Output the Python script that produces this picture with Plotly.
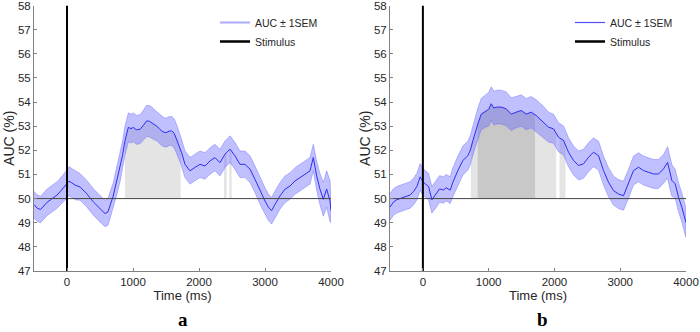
import numpy as np
import plotly.graph_objects as go
from plotly.subplots import make_subplots

CHANCE = 50
STIM_TIME = 0
Y_TICKS = list(range(47, 59))
X_TICKS = [0, 1000, 2000, 3000, 4000]

# ---- Panel a ----
time_a = [-500, -450, -400, -350, -300, -250, -200, -150, -100, -50, 0, 30, 70, 130, 200, 300, 400, 500, 576, 620,
          652, 700, 727, 770, 803, 840, 879, 929, 970, 1005, 1050, 1106, 1160, 1207, 1250, 1283, 1330, 1359,
          1400, 1434, 1470, 1510, 1550, 1586, 1625, 1662, 1712, 1737, 1788, 1864, 1939, 2015, 2091, 2167,
          2242, 2318, 2394, 2470, 2545, 2621, 2697, 2773, 2848, 2924, 3000, 3050, 3100, 3152, 3227, 3303,
          3379, 3455, 3530, 3606, 3682, 3732, 3783, 3833, 3884, 3934, 3960, 3985, 4000]
auc_a = [49.75, 49.6, 49.55, 49.7, 49.85, 49.95, 50.05, 50.15, 50.3, 50.45, 50.6, 50.72, 50.66, 50.55, 50.48,
         50.2, 49.86, 49.58, 49.38, 49.45, 49.72, 50.1, 50.43, 50.9, 51.3, 51.77, 52.4, 52.95, 52.9, 52.95,
         52.85, 52.87, 53.05, 53.22, 53.2, 53.15, 53.05, 53.0, 52.9, 52.8, 52.75, 52.74, 52.8, 52.8, 52.7,
         52.46, 52.11, 51.9, 51.42, 51.15, 51.29, 51.42, 51.35, 51.56, 51.7, 51.49, 51.84, 52.05, 51.77,
         51.42, 51.42, 51.22, 50.8, 50.32, 49.9, 49.65, 49.5, 49.76, 50.11, 50.39, 50.52, 50.73, 50.87,
         51.0, 51.15, 51.7, 50.94, 50.39, 49.97, 50.4, 50.1, 49.9, 49.5]
sem_a = [0.55, 0.55, 0.55, 0.55, 0.55, 0.55, 0.55, 0.55, 0.55, 0.55, 0.58, 0.6, 0.6, 0.6, 0.55,
         0.55, 0.55, 0.55, 0.55, 0.55, 0.55, 0.55, 0.55, 0.58, 0.6, 0.6, 0.6, 0.6, 0.6, 0.6,
         0.6, 0.6, 0.62, 0.65, 0.65, 0.65, 0.62, 0.6, 0.6, 0.6, 0.6, 0.6, 0.6, 0.6, 0.6,
         0.6, 0.58, 0.55, 0.55, 0.55, 0.55, 0.55, 0.55, 0.55, 0.55, 0.55, 0.55, 0.55, 0.55,
         0.55, 0.55, 0.55, 0.55, 0.55, 0.55, 0.55, 0.55, 0.55, 0.55, 0.55, 0.55, 0.55, 0.55,
         0.55, 0.55, 0.55, 0.6, 0.65, 0.7, 0.75, 0.8, 0.85, 0.5]
light_a = [(879, 1722), (2379, 2420), (2459, 2495)]
dark_a = []

# ---- Panel b ----
time_b = [-500, -450, -400, -345, -300, -250, -193, -140, -91, -41, 0, 40, 86, 137, 180, 213, 253, 314, 355,
          415, 456, 532, 608, 684, 720, 760, 800, 836, 887, 963, 1000, 1039, 1080, 1115, 1191, 1267, 1343,
          1419, 1495, 1571, 1647, 1723, 1834, 1910, 1986, 2062, 2138, 2214, 2290, 2366, 2442, 2518, 2594,
          2670, 2746, 2822, 2898, 2974, 3050, 3126, 3202, 3278, 3354, 3430, 3506, 3582, 3658, 3720, 3760,
          3785, 3836, 3887, 3937, 3988, 4000]
auc_b = [49.65, 49.85, 49.95, 50.0, 50.05, 50.1, 50.15, 50.3, 50.5, 50.9, 50.7, 50.6, 50.5, 49.95, 50.1,
         50.22, 50.4, 50.36, 50.45, 50.35, 50.68, 51.16, 51.58, 51.78, 52.0, 52.4, 52.8, 53.1, 53.5, 53.65,
         53.7, 53.93, 53.75, 53.79, 53.79, 53.72, 53.5, 53.58, 53.65, 53.5, 53.58, 53.44, 53.17, 52.96,
         52.89, 52.54, 52.41, 51.92, 51.58, 51.37, 51.44, 51.71, 51.92, 51.78, 51.16, 50.68, 50.33, 50.19,
         50.12, 50.61, 51.16, 51.3, 51.16, 51.09, 51.02, 51.02, 51.23, 51.5, 51.0, 50.75, 50.61, 50.05,
         49.64, 49.09, 49.0]
sem_b = [0.55, 0.55, 0.55, 0.55, 0.55, 0.55, 0.55, 0.55, 0.55, 0.55, 0.55, 0.55, 0.55, 0.55, 0.55,
         0.55, 0.55, 0.55, 0.55, 0.55, 0.6, 0.6, 0.6, 0.6, 0.6, 0.6, 0.62, 0.65, 0.65, 0.68,
         0.7, 0.7, 0.7, 0.7, 0.7, 0.7, 0.68, 0.65, 0.65, 0.65, 0.65, 0.65, 0.65, 0.62,
         0.6, 0.6, 0.6, 0.6, 0.6, 0.6, 0.6, 0.6, 0.6, 0.6, 0.6, 0.6, 0.6, 0.6,
         0.6, 0.6, 0.6, 0.6, 0.6, 0.6, 0.6, 0.6, 0.6, 0.65, 0.65, 0.65, 0.6, 0.6,
         0.6, 0.6, 0.6]
light_b = [(729, 830), (1707, 2026), (2077, 2168)]
dark_b = [(830, 1707)]

panels = [("a", time_a, auc_a, sem_a, light_a, dark_a, "legend"),
          ("b", time_b, auc_b, sem_b, light_b, dark_b, "legend2")]

BAND_FILL = "rgba(105,105,255,0.42)"
BAND_EDGE = "rgba(110,110,255,0.75)"
MEAN_COLOR = "rgb(45,45,240)"
LIGHT_GRAY = "rgb(228,228,228)"
DARK_GRAY = "rgb(200,200,200)"

fig = make_subplots(rows=1, cols=2)

for col, (label, t, m, s, light, dark, leg) in enumerate(panels, start=1):
    t = np.array(t, float)
    m = np.array(m, float)
    s = np.array(s, float)
    # significance shading (from chance level up to the mean)
    for intervals, color in ((light, LIGHT_GRAY), (dark, DARK_GRAY)):
        for (t0, t1) in intervals:
            inside = (t > t0) & (t < t1)
            xs = [t0] + list(t[inside]) + [t1]
            ys = [np.interp(t0, t, m)] + list(m[inside]) + [np.interp(t1, t, m)]
            fig.add_trace(go.Scatter(x=xs + [t1, t0], y=ys + [CHANCE, CHANCE], fill="toself",
                                     fillcolor=color, line=dict(width=0), mode="lines",
                                     hoverinfo="skip", showlegend=False), row=1, col=col)
    # SEM band
    upper = m + s
    lower = m - s
    fig.add_trace(go.Scatter(x=list(t) + list(t[::-1]), y=list(upper) + list(lower[::-1]),
                             fill="toself", fillcolor=BAND_FILL, mode="lines",
                             line=dict(color=BAND_EDGE, width=0.6), hoverinfo="skip",
                             showlegend=False), row=1, col=col)
    # mean
    fig.add_trace(go.Scatter(x=t, y=m, mode="lines", line=dict(color=MEAN_COLOR, width=1),
                             showlegend=False), row=1, col=col)
    # chance line
    fig.add_trace(go.Scatter(x=[-500, 4000], y=[CHANCE, CHANCE], mode="lines",
                             line=dict(color="rgb(70,70,70)", width=1), showlegend=False,
                             hoverinfo="skip"), row=1, col=col)
    # stimulus line
    fig.add_trace(go.Scatter(x=[STIM_TIME, STIM_TIME], y=[Y_TICKS[0], Y_TICKS[-1]], mode="lines",
                             line=dict(color="black", width=2), showlegend=False,
                             hoverinfo="skip"), row=1, col=col)
    # legend entries
    leg_line = dict(color="rgb(170,170,255)", width=2) if label == "a" else dict(color="rgb(80,80,255)", width=1.2)
    fig.add_trace(go.Scatter(x=[None], y=[None], mode="lines", name="AUC ± 1SEM",
                             line=leg_line, legend=leg), row=1, col=col)
    fig.add_trace(go.Scatter(x=[None], y=[None], mode="lines", name="Stimulus",
                             line=dict(color="black", width=2.5), legend=leg), row=1, col=col)

axis_common = dict(showgrid=False, zeroline=False, showline=True, linecolor="rgb(128,128,128)",
                   linewidth=1, ticks="inside", ticklen=3, tickcolor="rgb(128,128,128)",
                   tickfont=dict(family="Liberation Sans, Arial", size=11.5, color="rgb(38,38,38)"),
                   ticklabeloverflow="allow", automargin=False)

x_domains = [[34 / 700, 331 / 700], [390 / 700, 686 / 700]]
for i in (1, 2):
    fig.update_xaxes(axis_common, range=[-500, 4000], tickvals=X_TICKS, domain=x_domains[i - 1],
                     title=dict(text="Time (ms)", standoff=4,
                                font=dict(family="Liberation Sans, Arial", size=13, color="rgb(38,38,38)")),
                     row=1, col=i)
    fig.update_yaxes(axis_common, range=[47, 58], tickvals=Y_TICKS, domain=[61 / 332, 326.5 / 332],
                     title=dict(text="AUC (%)", standoff=0,
                                font=dict(family="Liberation Sans, Arial", size=14, color="rgb(38,38,38)")),
                     row=1, col=i)

legend_style = dict(font=dict(family="Liberation Sans, Arial", size=10.5, color="rgb(38,38,38)"),
                    bgcolor="rgba(0,0,0,0)", yanchor="top", xanchor="left", itemwidth=30,
                    tracegroupgap=0)
fig.update_layout(
    width=700, height=332, margin=dict(l=0, r=0, t=0, b=0),
    plot_bgcolor="white", paper_bgcolor="white",
    legend=dict(legend_style, x=215 / 700, y=1 - 8 / 332),
    legend2=dict(legend_style, x=570 / 700, y=1 - 8 / 332),
    annotations=[
        dict(text="<b>a</b>", x=sum(x_domains[0]) / 2 + 0.5 / 700, y=0, xref="paper", yref="paper",
             xanchor="center", yanchor="bottom", showarrow=False,
             font=dict(family="Liberation Serif, Times New Roman", size=19, color="black")),
        dict(text="<b>b</b>", x=sum(x_domains[1]) / 2 + 4 / 700, y=0, xref="paper", yref="paper",
             xanchor="center", yanchor="bottom", showarrow=False,
             font=dict(family="Liberation Serif, Times New Roman", size=19, color="black")),
    ],
)

fig.write_html("out.html", config={"displayModeBar": False},
               post_script="document.body.style.margin='0';document.body.style.overflow='hidden';")
